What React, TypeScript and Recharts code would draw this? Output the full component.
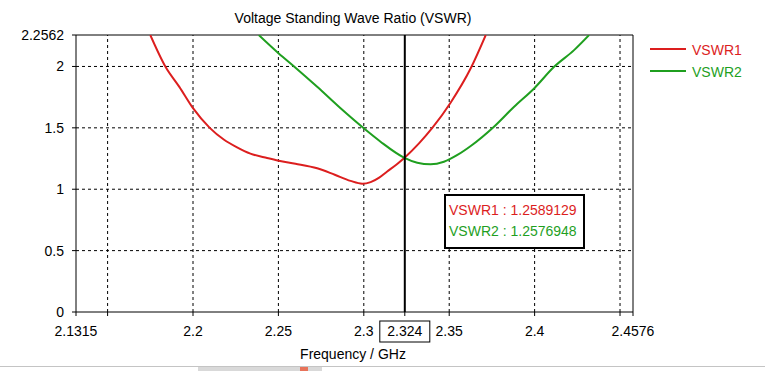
import React from "react";
import { LineChart, Line, XAxis, YAxis, ReferenceLine } from "recharts";

// values
const freq1 = [2.175, 2.1838, 2.192, 2.2, 2.2098, 2.218, 2.2258, 2.2336, 2.2434, 2.2502, 2.26, 2.2727, 2.283, 2.2922, 2.2991, 2.304, 2.309, 2.3137, 2.319, 2.324, 2.3323, 2.3401, 2.3508, 2.3626, 2.3714];
const vswr1 = [2.256, 2.0, 1.834, 1.66, 1.5, 1.405, 1.341, 1.29, 1.254, 1.232, 1.208, 1.171, 1.118, 1.068, 1.045, 1.058, 1.095, 1.145, 1.2, 1.259, 1.374, 1.5, 1.705, 1.985, 2.256];

const freq2 = [2.2385, 2.2502, 2.259, 2.2727, 2.2864, 2.3, 2.3098, 2.3235, 2.3313, 2.3391, 2.3469, 2.3548, 2.3626, 2.3762, 2.388, 2.3997, 2.4114, 2.4231, 2.4319];
const vswr2 = [2.256, 2.106, 2.002, 1.834, 1.659, 1.496, 1.387, 1.258, 1.216, 1.203, 1.224, 1.279, 1.352, 1.509, 1.672, 1.821, 1.997, 2.133, 2.256];

const xTicks = [2.1315, 2.15, 2.2, 2.25, 2.3, 2.324, 2.35, 2.4, 2.45, 2.4576];
const xHidden = [2.15, 2.45];
const yTicks = [0, 0.5, 1, 1.5, 2, 2.2562];
const xGrid = [2.15, 2.2, 2.25, 2.3, 2.35, 2.4, 2.45];
const yGrid = [0.5, 1, 1.5, 2];
const cursorFreq = 2.324;
const markerValues = ["1.2589129", "1.2576948"];

const RED = "#dc1e1e";
const GREEN = "#1f9f1f";
const FONT = "'Liberation Sans', Arial, sans-serif";

const data1 = freq1.map((f, i) => ({ f, v: vswr1[i] }));
const data2 = freq2.map((f, i) => ({ f, v: vswr2[i] }));

const XTick = (props: any) => {
  const { x, y, payload } = props;
  const v = payload.value;
  if (xHidden.includes(v)) return <g />;
  return (
    <g>
      {v === cursorFreq && (
        <rect x={x - 25} y={y - 5} width={50} height={21} fill="#fff" stroke="#000" />
      )}
      <text x={x} y={y} dy="0.71em" textAnchor="middle" fill="#000" fontSize={14} fontFamily={FONT}>
        {v}
      </text>
    </g>
  );
};

export default function App() {
  return (
    <div style={{ position: "absolute", left: 0, top: 0, width: 765, height: 371, background: "#fff" }}>
      <LineChart
        width={765}
        height={371}
        margin={{ top: 35, right: 132, bottom: 0, left: 0 }}
      >
        {xGrid.map((g) => (
          <ReferenceLine key={"x" + g} x={g} stroke="#000" strokeDasharray="3 3" />
        ))}
        {yGrid.map((g) => (
          <ReferenceLine key={"y" + g} y={g} stroke="#000" strokeDasharray="3 3" />
        ))}
        <ReferenceLine y={2.2562} stroke="#000" />
        <ReferenceLine x={2.4576} stroke="#000" />
        <XAxis
          type="number"
          dataKey="f"
          domain={[2.1315, 2.4576]}
          allowDataOverflow
          ticks={xTicks}
          interval={0}
          height={59}
          tickSize={4}
          tickMargin={10}
          stroke="#000"
          tick={<XTick />}
        />
        <YAxis
          type="number"
          domain={[0, 2.2562]}
          allowDataOverflow
          ticks={yTicks}
          interval={0}
          width={76}
          tickSize={4}
          tickMargin={8}
          stroke="#000"
          tick={{ fill: "#000", fontSize: 14, fontFamily: FONT }}
        />
        <Line data={data1} dataKey="v" type="monotone" stroke={RED} strokeWidth={2} dot={false} isAnimationActive={false} />
        <Line data={data2} dataKey="v" type="monotone" stroke={GREEN} strokeWidth={2} dot={false} isAnimationActive={false} />
        <ReferenceLine x={cursorFreq} stroke="#000" strokeWidth={2} />
      </LineChart>
      <svg
        width={765}
        height={371}
        style={{ position: "absolute", left: 0, top: 0, pointerEvents: "none" }}
        fontFamily={FONT}
        fontSize={14}
      >
        <text x={353} y={22.5} textAnchor="middle" fill="#000">Voltage Standing Wave Ratio (VSWR)</text>
        <text x={353} y={358.5} textAnchor="middle" fill="#000">Frequency / GHz</text>
        <line x1={650} x2={686} y1={49} y2={49} stroke={RED} strokeWidth={2} />
        <text x={692} y={54.5} fill={RED}>VSWR1</text>
        <line x1={650} x2={686} y1={71} y2={71} stroke={GREEN} strokeWidth={2} />
        <text x={692} y={76.5} fill={GREEN}>VSWR2</text>
        <rect x={445} y={195} width={139} height={53} fill="#fff" stroke="#000" strokeWidth={2} />
        <text x={449} y={214.5} fill={RED}>{"VSWR1 : " + markerValues[0]}</text>
        <text x={449} y={236} fill={GREEN}>{"VSWR2 : " + markerValues[1]}</text>
        <line x1={0} x2={765} y1={366.5} y2={366.5} stroke="#c4c4c4" />
        <rect x={198} y={367} width={124} height={4} fill="#d9d9d9" />
        <rect x={300} y={367} width={8} height={4} fill="#e8735a" />
      </svg>
    </div>
  );
}
